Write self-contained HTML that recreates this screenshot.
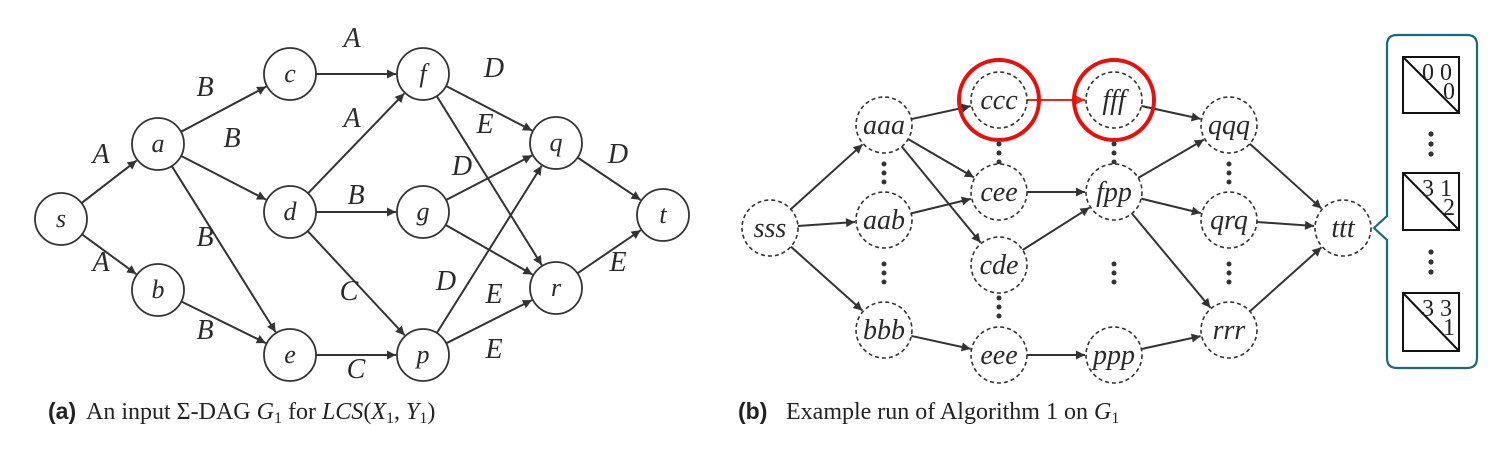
<!DOCTYPE html>
<html><head><meta charset="utf-8"><style>
html,body{margin:0;padding:0;background:#fff;}
svg{display:block;}
.lbl{font-family:"Liberation Serif",serif;font-style:italic;fill:#2a2a2a;}
.cap{font-family:"Liberation Serif",serif;font-size:24px;fill:#222;}
.capb{font-family:"Liberation Sans",sans-serif;font-weight:bold;font-size:23px;fill:#222;}
</style></head><body>
<svg id="s" width="1512" height="452" viewBox="0 0 1512 452" xmlns="http://www.w3.org/2000/svg">
<defs>
<marker id="ar" viewBox="0 0 10 10" refX="10" refY="5" markerWidth="10" markerHeight="9" orient="auto" markerUnits="userSpaceOnUse"><path d="M0,0L10,5L0,10z" fill="#333"/></marker>
<marker id="arr" viewBox="0 0 10 10" refX="10" refY="5" markerWidth="10" markerHeight="9" orient="auto" markerUnits="userSpaceOnUse"><path d="M0,0L10,5L0,10z" fill="#e8281e"/></marker>
</defs>
<g id="ga"></g>
<g id="gb"></g>
<g>
<path d="M1397,35 H1467 Q1477,35 1477,45 V358 Q1477,368 1467,368 H1397 Q1387,368 1387,358 V240 L1374,228 L1387,216 V45 Q1387,35 1397,35 Z" fill="none" stroke="#1a6a7a" stroke-width="2.2"/>
<g stroke="#111" stroke-width="2" fill="none">
<rect x="1403" y="57" width="56" height="56"/><line x1="1403" y1="57" x2="1459" y2="113"/>
<rect x="1403" y="173" width="56" height="57"/><line x1="1403" y1="173" x2="1459" y2="230"/>
<rect x="1403" y="293" width="56" height="58"/><line x1="1403" y1="293" x2="1459" y2="351"/>
</g>
<g class="cap" font-size="25" font-style="normal">
<text x="1422" y="80">0 0</text><text x="1443" y="99">0</text>
<text x="1422" y="196">3 1</text><text x="1443" y="215">2</text>
<text x="1422" y="316">3 3</text><text x="1443" y="335">1</text>
</g>
<g fill="#333"><circle cx="1431" cy="134" r="2.6"/><circle cx="1431" cy="144" r="2.6"/><circle cx="1431" cy="154" r="2.6"/>
<circle cx="1431" cy="252" r="2.6"/><circle cx="1431" cy="262" r="2.6"/><circle cx="1431" cy="272" r="2.6"/></g>
</g>
<text class="capb" x="48" y="419">(a)</text>
<text class="cap" x="86" y="419">An input Σ-DAG <tspan font-style="italic">G</tspan><tspan font-size="16" dy="4">1</tspan><tspan dy="-4"> for </tspan><tspan font-style="italic">LCS</tspan>(<tspan font-style="italic">X</tspan><tspan font-size="16" dy="4">1</tspan><tspan dy="-4">, </tspan><tspan font-style="italic">Y</tspan><tspan font-size="16" dy="4">1</tspan><tspan dy="-4">)</tspan></text>
<text class="capb" x="738" y="419">(b)</text>
<text class="cap" x="786" y="419">Example run of Algorithm 1 on <tspan font-style="italic">G</tspan><tspan font-size="16" dy="4">1</tspan></text>
</svg>
<script>
const NS="http://www.w3.org/2000/svg";
function mk(p,t,a){const e=document.createElementNS(NS,t);for(const k in a)e.setAttribute(k,a[k]);p.appendChild(e);return e;}
const ga=document.getElementById('ga'),gb=document.getElementById('gb');
const nodesA={s:[61,219],a:[158,144],b:[158,290],c:[290,74],d:[290,212],e:[290,355],f:[423,74],g:[423,212],p:[423,355],q:[556,143],r:[556,288],t:[663,215]};
const edgesA=[["s","a"],["s","b"],["a","c"],["a","d"],["a","e"],["b","e"],["c","f"],["d","f"],["d","g"],["d","p"],["e","p"],["f","q"],["f","r"],["g","q"],["g","r"],["p","q"],["p","r"],["q","t"],["r","t"]];
const labelsA=[["A",101,163],["A",101,271],["B",205,96],["B",232,147],["B",205,246],["B",205,339],["A",352,47],["A",352,127],["B",356,204],["C",349,300],["C",356,378],["D",494,77],["E",485,133],["D",462,175],["D",446,290],["E",494,303],["E",494,358],["D",618,163],["E",618,271]];
const RA=26;
function edge(g,p1,p2,r1,r2,col,mid){const dx=p2[0]-p1[0],dy=p2[1]-p1[1],L=Math.hypot(dx,dy);
 const l=mk(g,'line',{x1:p1[0]+dx/L*r1,y1:p1[1]+dy/L*r1,x2:p2[0]-dx/L*r2,y2:p2[1]-dy/L*r2,stroke:col||'#333','stroke-width':2,'marker-end':mid||'url(#ar)'});
 
 }
edgesA.forEach(e=>edge(ga,nodesA[e[0]],nodesA[e[1]],RA,RA+1));
for(const k in nodesA){const [x,y]=nodesA[k];
 const c=mk(ga,'circle',{cx:x,cy:y,r:RA,fill:'#fff',stroke:'#333','stroke-width':1.8});
 
 
 const t=mk(ga,'text',{x:x,y:y+8,'text-anchor':'middle','font-size':26,class:'lbl'});t.textContent=k;
 
 }
labelsA.forEach(l=>{const t=mk(ga,'text',{x:l[1],y:l[2],'text-anchor':'middle','font-size':28,class:'lbl'});t.textContent=l[0];
 
 });

const nodesB={sss:[770,228],aaa:[884,125],aab:[884,220],bbb:[884,330],ccc:[999,100],cee:[999,192],cde:[999,265],eee:[999,355],fff:[1114,100],fpp:[1114,192],ppp:[1114,355],qqq:[1229,125],qrq:[1229,220],rrr:[1229,330],ttt:[1343,228]};
const edgesB=[["sss","aaa"],["sss","aab"],["sss","bbb"],["aaa","ccc"],["aaa","cee"],["aaa","cde"],["aab","cee"],["bbb","eee"],["cee","fpp"],["cde","fpp"],["eee","ppp"],["fff","qqq"],["fpp","qqq"],["fpp","qrq"],["fpp","rrr"],["ppp","rrr"],["qqq","ttt"],["qrq","ttt"],["rrr","ttt"]];
const RB=28;
edgesB.forEach(e=>edge(gb,nodesB[e[0]],nodesB[e[1]],RB,RB+1));
edge(gb,nodesB.ccc,nodesB.fff,RB,RB+1,'#e8281e','url(#arr)');
const dots=[[884,173],[884,273],[999,153],[999,307],[1114,153],[1114,273],[1229,173],[1229,273]];
dots.forEach(d=>{for(let i=-1;i<=1;i++){const c=mk(gb,'circle',{cx:d[0],cy:d[1]+i*9,r:2.5,fill:'#333'});
 
 }});
for(const k in nodesB){const [x,y]=nodesB[k];
 const c=mk(gb,'circle',{cx:x,cy:y,r:RB,fill:'#fff',stroke:'#333','stroke-width':1.6,'stroke-dasharray':'4,3'});
 
 
 const t=mk(gb,'text',{x:x,y:y+9,'text-anchor':'middle','font-size':28,class:'lbl'});t.textContent=k;
 
 }
["ccc","fff"].forEach(k=>{const c=mk(gb,'circle',{cx:nodesB[k][0],cy:nodesB[k][1],r:40,fill:'none',stroke:'#e8100a','stroke-width':4});
 
 });
</script>
</body></html>
